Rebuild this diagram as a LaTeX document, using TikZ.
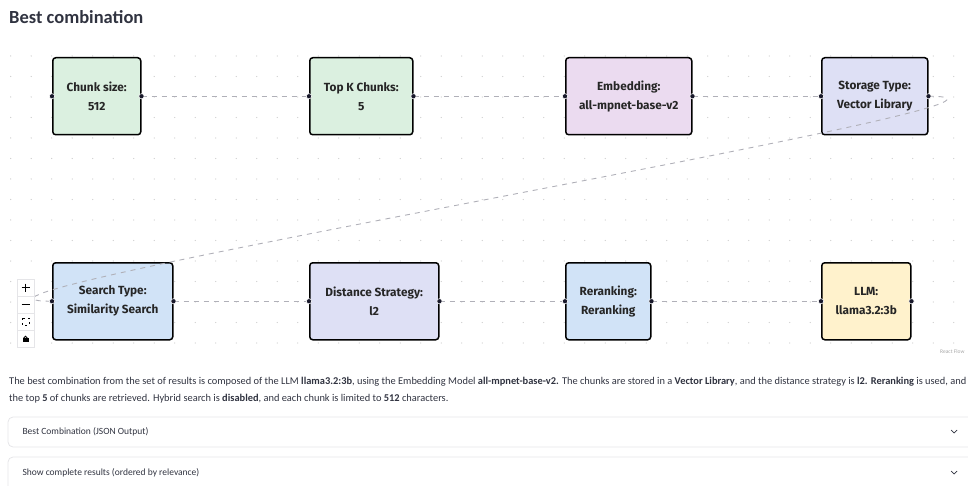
\documentclass[tikz,border=0pt]{standalone}
\usepackage{fontspec}
\setmainfont{Carlito}
\newfontfamily\nodefont{Fira Sans}
\usepackage{tikz}
\usetikzlibrary{arrows.meta, positioning, calc}
\definecolor{stgray}{rgb}{0.19,0.20,0.25}
\definecolor{chunkgreen}{rgb}{0.86,0.94,0.88}
\definecolor{embedpurple}{rgb}{0.92,0.86,0.94}
\definecolor{storelav}{rgb}{0.87,0.88,0.96}
\definecolor{searchblue}{rgb}{0.82,0.89,0.97}
\definecolor{llmyellow}{rgb}{1.0,0.95,0.80}
\definecolor{edgegray}{rgb}{0.69,0.69,0.72}
\definecolor{handlecol}{rgb}{0.10,0.10,0.17}
\definecolor{dotgray}{rgb}{0.80,0.80,0.80}
\definecolor{accborder}{rgb}{0.90,0.90,0.91}

\begin{document}
\begin{tikzpicture}[x=1pt, y=-1pt,
    box/.style={rectangle, rounded corners=3pt, draw=black, line width=1.5pt, anchor=north west,
        minimum height=77pt, inner xsep=2pt, align=center, text=black!85,
        font=\nodefont\bfseries\fontsize{11.8}{19}\selectfont},
    edge/.style={draw=edgegray, line width=0.9pt, dash pattern=on 5pt off 5pt},
    handle/.style={fill=handlecol, draw=white, line width=0.5pt},
    ctrl/.style={rectangle, draw=accborder, fill=white, minimum size=17pt, inner sep=0pt},
    acctext/.style={anchor=west, text=stgray, font=\fontsize{9.5}{11}\selectfont}
]
\useasboundingbox (0,0) rectangle (968,486);

% title
\node[anchor=base west, inner sep=0pt, text=stgray, font=\bfseries\fontsize{18.5}{20}\selectfont] (title) at (9,23.5) {Best combination};

% dot grid of the flow canvas
\foreach \i in {0,...,47}
  \foreach \j in {0,...,14}
    \fill[dotgray] (10.7+20.5*\i, 56+20.5*\j) circle (0.7pt);

% parameter nodes
\node[box, fill=chunkgreen, minimum width=88pt] (chunk) at (52,57) {Chunk size:\\512};
\node[box, fill=chunkgreen, minimum width=103pt] (topk) at (309,57) {Top K Chunks:\\5};
\node[box, fill=embedpurple, minimum width=126pt] (embed) at (565,57) {Embedding:\\all-mpnet-base-v2};
\node[box, fill=storelav, minimum width=106pt] (store) at (821,57) {Storage Type:\\Vector Library};

\node[box, fill=searchblue, minimum width=120pt] (search) at (52,262) {Search Type:\\Similarity Search};
\node[box, fill=storelav, minimum width=129pt] (dist) at (309,262) {Distance Strategy:\\l2};
\node[box, fill=searchblue, minimum width=85pt] (rerank) at (565,262) {Reranking:\\Reranking};
\node[box, fill=llmyellow, minimum width=89pt] (llm) at (821,262) {LLM:\\llama3.2:3b};

% edges
\draw[edge] (chunk.east) -- (topk.west);
\draw[edge] (topk.east) -- (embed.west);
\draw[edge] (embed.east) -- (store.west);
\draw[edge] (store.east) .. controls +(185,0) and +(-185,0) .. (search.west);
\draw[edge] (search.east) -- (dist.west);
\draw[edge] (dist.east) -- (rerank.west);
\draw[edge] (rerank.east) -- (llm.west);

% handles
\foreach \n in {chunk, topk, embed, store, search, dist, rerank, llm} {
  \filldraw[handle] (\n.west) circle (2.6pt);
  \filldraw[handle] (\n.east) circle (2.6pt);
}

% canvas controls
\node[ctrl] (zoomin) at (25.5,287.5) {};
\node[ctrl] (zoomout) at (25.5,304.5) {};
\node[ctrl] (fitview) at (25.5,321.5) {};
\node[ctrl] (lock) at (25.5,338.5) {};
\draw[black, line width=1pt] ($(zoomin.center)+(-4,0)$) -- ($(zoomin.center)+(4,0)$);
\draw[black, line width=1pt] ($(zoomin.center)+(0,-4)$) -- ($(zoomin.center)+(0,4)$);
\draw[black, line width=1pt] ($(zoomout.center)+(-4,0)$) -- ($(zoomout.center)+(4,0)$);
\draw[black, line width=0.8pt, dash pattern=on 2pt off 3pt] ($(fitview.center)+(-3.5,-3.5)$) rectangle ($(fitview.center)+(3.5,3.5)$);
\fill[black] ($(lock.center)+(-3,-0.5)$) rectangle ($(lock.center)+(3,3.5)$);
\draw[black, line width=0.9pt] ($(lock.center)+(-1.8,-0.5)$) arc[start angle=180, end angle=0, radius=1.8pt];
\node[anchor=east, text=black!35, font=\fontsize{5.5}{6}\selectfont] (attrib) at (968,352) {React Flow};

% summary text
\node[anchor=base west, align=left, inner sep=0pt, text=stgray, font=\fontsize{10.4}{17}\selectfont] (summary) at (9,401.5)
  {The best combination from the set of results is composed of the LLM \textbf{llama3.2:3b}, using the Embedding Model \textbf{all-mpnet-base-v2.} The chunks are stored in a \textbf{Vector Library}, and the distance strategy is \textbf{l2.} \textbf{Reranking} is used, and\\
   the top \textbf{5} of chunks are retrieved. Hybrid search is \textbf{disabled}, and each chunk is limited to \textbf{512} characters.};

% expanders
\draw[accborder, line width=0.8pt, rounded corners=5pt] (8,417) rectangle (980,447);
\node[acctext] (jsonlbl) at (19,432) {Best Combination (JSON Output)};
\draw[stgray, line width=0.7pt] (951,430) -- (954,433) -- (957,430);
\draw[accborder, line width=0.8pt, rounded corners=5pt] (8,457) rectangle (980,500);
\node[acctext] (fulllbl) at (19,473) {Show complete results (ordered by relevance)};
\draw[stgray, line width=0.7pt] (951,471) -- (954,474) -- (957,471);

\end{tikzpicture}
\end{document}
